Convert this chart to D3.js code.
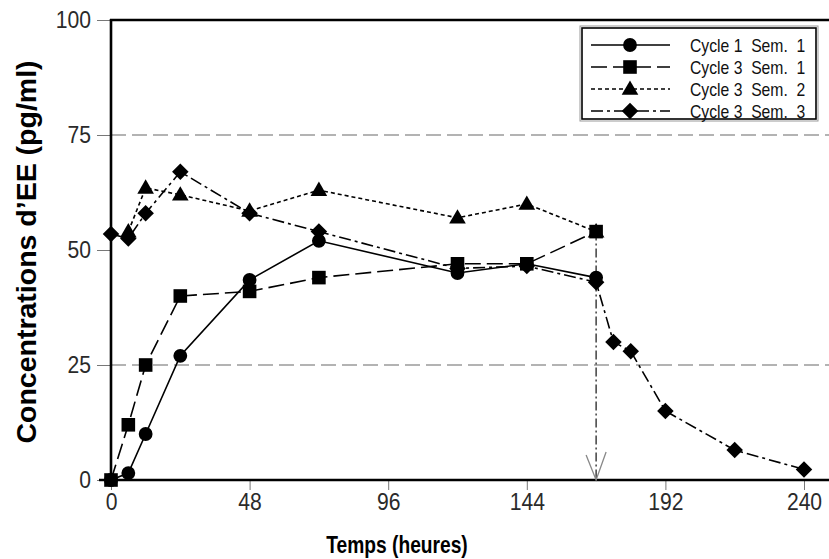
<!DOCTYPE html>
<html>
<head>
<meta charset="utf-8">
<script src="https://cdn.jsdelivr.net/npm/d3@7"></script>
<style>
  html, body { margin: 0; padding: 0; background: #fff; }
  svg { display: block; }
</style>
</head>
<body>
<div id="chart"></div>
<script>
// ---- Data ----
const seriesNames = ["Cycle 1  Sem.  1", "Cycle 3  Sem.  1", "Cycle 3  Sem.  2", "Cycle 3  Sem.  3"];
const c1s1Times = [0, 6, 12, 24, 48, 72, 120, 144, 168];
const c1s1Values = [0, 1.5, 10, 27, 43.5, 52, 45, 47, 44];
const c3s1Times = [0, 6, 12, 24, 48, 72, 120, 144, 168];
const c3s1Values = [0, 12, 25, 40, 41, 44, 47, 47, 54];
const c3s2Times = [6, 12, 24, 48, 72, 120, 144, 168];
const c3s2Values = [54, 63.5, 62, 58.5, 63, 57, 60, 54];
const c3s3Times = [0, 6, 12, 24, 48, 72, 120, 144, 168, 174, 180, 192, 216, 240];
const c3s3Values = [53.5, 52.5, 58, 67, 58, 54, 46, 46.5, 43, 30, 28, 15, 6.5, 2.3];
const xTicks = [0, 48, 96, 144, 192, 240];
const yTicks = [0, 25, 50, 75, 100];
const refLines = [25, 75];
const stopTime = 168;
const stopValue = 54;

const W = 829, H = 559;
const svg = d3.select("#chart").append("svg").attr("width", W).attr("height", H);

const x = d3.scaleLinear().domain([0, 240]).range([111, 804]);
const y = d3.scaleLinear().domain([0, 100]).range([480, 20]);
const xRight = W + 5;

const FONT = "'Liberation Sans', Arial, sans-serif";

// reference dashed grid lines
svg.selectAll("line.ref").data(refLines).enter().append("line")
  .attr("x1", x(0)).attr("x2", xRight)
  .attr("y1", d => y(d)).attr("y2", d => y(d))
  .attr("stroke", "#9a9a9a").attr("stroke-width", 1.6)
  .attr("stroke-dasharray", "15,6");

// axes (labels are drawn condensed via a horizontal scale)
const xAxis = svg.append("g").attr("transform", `translate(0,${y(0)})`)
  .call(d3.axisBottom(x).tickValues(xTicks).tickSize(10).tickPadding(3).tickFormat(d3.format("d")));
xAxis.select(".domain").remove();
xAxis.selectAll(".tick line").attr("stroke", "#777").attr("stroke-width", 1);
xAxis.selectAll(".tick text")
  .attr("font-family", FONT).attr("font-size", 24).attr("fill", "#2a2a2a")
  .attr("transform", "scale(0.88,1)")
  .attr("x", 0);

const yAxis = svg.append("g").attr("transform", `translate(${x(0)},0)`)
  .call(d3.axisLeft(y).tickValues(yTicks).tickSize(14).tickPadding(6).tickFormat(d3.format("d")));
yAxis.select(".domain").remove();
yAxis.selectAll(".tick line").attr("stroke", "#777").attr("stroke-width", 1);
yAxis.selectAll(".tick text")
  .attr("font-family", FONT).attr("font-size", 24).attr("fill", "#2a2a2a")
  .attr("x", -20 / 0.88)
  .attr("transform", "scale(0.88,1)");

// frame lines: left, top, bottom
svg.append("line").attr("x1", x(0)).attr("x2", x(0)).attr("y1", y(100) - 1).attr("y2", y(0) + 1)
  .attr("stroke", "#000").attr("stroke-width", 2.6);
svg.append("line").attr("x1", x(0) - 1).attr("x2", xRight).attr("y1", y(100)).attr("y2", y(100))
  .attr("stroke", "#000").attr("stroke-width", 2.6);
svg.append("line").attr("x1", x(0) - 12).attr("x2", xRight).attr("y1", y(0)).attr("y2", y(0))
  .attr("stroke", "#000").attr("stroke-width", 2.6);

// vertical stop line with open arrow
svg.append("line").attr("x1", x(stopTime)).attr("x2", x(stopTime))
  .attr("y1", y(stopValue)).attr("y2", y(0))
  .attr("stroke", "#111").attr("stroke-width", 1.2).attr("stroke-dasharray", "9,3,2,3");
svg.append("path")
  .attr("d", `M${x(stopTime) - 10},${y(0) - 25} L${x(stopTime)},${y(0)} L${x(stopTime) + 10},${y(0) - 28}`)
  .attr("fill", "none").attr("stroke", "#888").attr("stroke-width", 1.3);

// series
const series = [
  { name: seriesNames[0], t: c1s1Times, v: c1s1Values, dash: null, sym: d3.symbolCircle, size: 150 },
  { name: seriesNames[1], t: c3s1Times, v: c3s1Values, dash: "16,6", sym: d3.symbolSquare, size: 185 },
  { name: seriesNames[2], t: c3s2Times, v: c3s2Values, dash: "4,3", sym: d3.symbolTriangle, size: 120 },
  { name: seriesNames[3], t: c3s3Times, v: c3s3Values, dash: "12,4,3,4", sym: d3.symbolDiamond, size: 195 }
];
series.forEach(s => { s.pts = s.t.map((t, i) => [t, s.v[i]]); });

const line = d3.line().x(d => x(d[0])).y(d => y(d[1]));

series.forEach(s => {
  svg.append("path").attr("d", line(s.pts))
    .attr("fill", "none").attr("stroke", "#000").attr("stroke-width", 1.6)
    .attr("stroke-dasharray", s.dash);
});

function symPath(s) {
  if (s.sym === d3.symbolDiamond) {
    return d3.symbol().type(d3.symbolSquare).size(s.size * 0.7)();
  }
  return d3.symbol().type(s.sym).size(s.size)();
}
function symTransform(s, px, py) {
  if (s.sym === d3.symbolDiamond) return `translate(${px},${py}) rotate(45)`;
  if (s.sym === d3.symbolTriangle) return `translate(${px},${py + 1})`;
  return `translate(${px},${py})`;
}

const drawOrder = [2, 1, 3, 0];
drawOrder.forEach(k => {
  const s = series[k];
  svg.append("g").selectAll("path").data(s.pts).enter().append("path")
    .attr("d", symPath(s))
    .attr("transform", d => symTransform(s, x(d[0]), y(d[1])))
    .attr("fill", "#000");
});

// legend
const lg = svg.append("g");
lg.append("rect").attr("x", 580).attr("y", 26).attr("width", 238).attr("height", 95)
  .attr("fill", "#fff").attr("stroke", "#999").attr("stroke-width", 1);
lg.append("rect").attr("x", 582).attr("y", 28).attr("width", 234).attr("height", 91)
  .attr("fill", "#fff").attr("stroke", "#000").attr("stroke-width", 1.6);
const rowY = [45, 67, 89, 111];
series.forEach((s, i) => {
  const ry = rowY[i];
  lg.append("line").attr("x1", 591).attr("x2", 670).attr("y1", ry).attr("y2", ry)
    .attr("stroke", "#000").attr("stroke-width", 1.6).attr("stroke-dasharray", s.dash);
  lg.append("path").attr("d", symPath(s)).attr("transform", symTransform(s, 630, ry)).attr("fill", "#000");
  lg.append("text").attr("transform", `translate(690,${ry + 6.5}) scale(0.85,1)`)
    .attr("font-family", FONT).attr("font-size", 18.5).attr("fill", "#111")
    .attr("xml:space", "preserve").style("white-space", "pre")
    .text(s.name);
});

// axis titles
svg.append("text").attr("transform", "translate(397,553) scale(0.8,1)").attr("text-anchor", "middle")
  .attr("font-family", FONT)
  .attr("font-weight", "bold").attr("font-size", 24).attr("fill", "#000")
  .text("Temps (heures)");
svg.append("text").attr("transform", "translate(36,252) rotate(-90)").attr("text-anchor", "middle")
  .attr("font-family", FONT)
  .attr("font-weight", "bold").attr("font-size", 28.5).attr("fill", "#000")
  .text("Concentrations d’EE (pg/ml)");
</script>
</body>
</html>
